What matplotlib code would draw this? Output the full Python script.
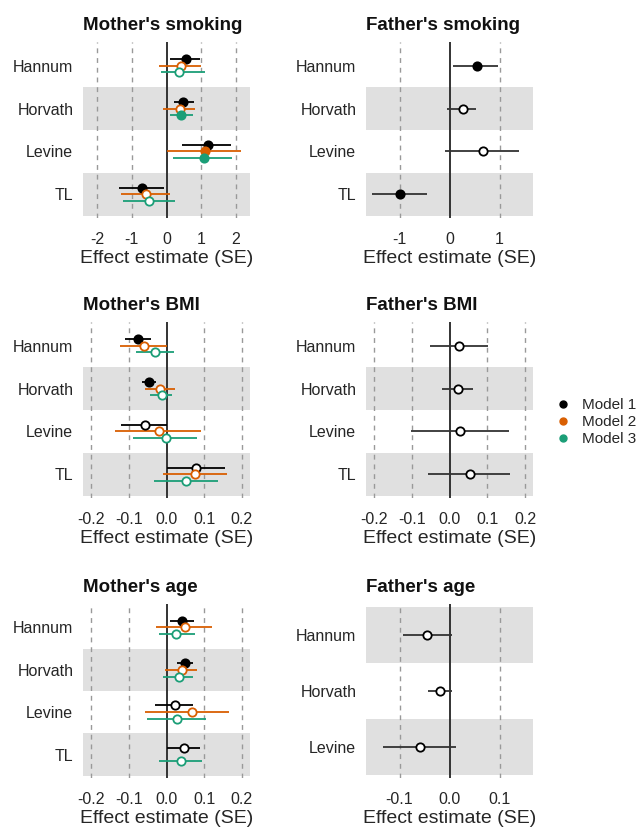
import numpy as np
import matplotlib
matplotlib.use("Agg")
import matplotlib.pyplot as plt
from matplotlib.lines import Line2D

plt.rcParams['font.family'] = ['Liberation Sans', 'DejaVu Sans']
plt.rcParams['axes.unicode_minus'] = False

clocks4 = ["Hannum", "Horvath", "Levine", "TL"]
clocks3 = ["Hannum", "Horvath", "Levine"]
model_names = ["Model 1", "Model 2", "Model 3"]
model_colors = ["#000000", "#D95F02", "#1B9E77"]

# Mother's smoking (rows: model 1..3, columns: clocks)
ms_est = [[0.575, 0.49, 1.19, -0.71], [0.42, 0.40, 1.11, -0.59], [0.36, 0.42, 1.07, -0.50]]
ms_lo = [[0.115, 0.21, 0.45, -1.37], [-0.21, -0.10, 0.02, -1.32], [-0.16, 0.09, 0.20, -1.26]]
ms_hi = [[0.98, 0.79, 1.87, -0.08], [1.00, 0.81, 2.15, 0.10], [1.12, 0.77, 1.88, 0.24]]
ms_sig = [[1, 1, 1, 1], [0, 0, 1, 0], [0, 1, 1, 0]]

# Father's smoking (model 1 only)
fs_est = [[0.54, 0.27, 0.67, -0.99]]
fs_lo = [[0.07, -0.05, -0.10, -1.55]]
fs_hi = [[0.96, 0.53, 1.39, -0.45]]
fs_sig = [[1, 0, 0, 1]]

# Mother's BMI
mb_est = [[-0.075, -0.046, -0.056, 0.078], [-0.059, -0.017, -0.020, 0.077], [-0.031, -0.012, -0.002, 0.052]]
mb_lo = [[-0.111, -0.065, -0.120, 0.000], [-0.124, -0.058, -0.137, -0.010], [-0.082, -0.044, -0.089, -0.032]]
mb_hi = [[-0.042, -0.027, 0.000, 0.155], [0.002, 0.022, 0.091, 0.161], [0.019, 0.015, 0.082, 0.136]]
mb_sig = [[1, 1, 0, 0], [0, 0, 0, 0], [0, 0, 0, 0]]

# Father's BMI
fb_est = [[0.026, 0.023, 0.029, 0.054]]
fb_lo = [[-0.051, -0.019, -0.101, -0.058]]
fb_hi = [[0.101, 0.063, 0.157, 0.159]]
fb_sig = [[0, 0, 0, 0]]

# Mother's age (model 2 has no TL estimate)
ma_est = [[0.041, 0.048, 0.022, 0.047], [0.048, 0.042, 0.068, np.nan], [0.026, 0.034, 0.029, 0.038]]
ma_lo = [[0.010, 0.027, -0.030, 0.000], [-0.028, -0.004, -0.057, np.nan], [-0.021, -0.010, -0.053, -0.019]]
ma_hi = [[0.073, 0.070, 0.071, 0.090], [0.121, 0.082, 0.165, np.nan], [0.075, 0.071, 0.106, 0.094]]
ma_sig = [[1, 1, 0, 0], [0, 0, 0, 0], [0, 0, 0, 0]]

# Father's age
fa_est = [[-0.045, -0.019, -0.059]]
fa_lo = [[-0.093, -0.043, -0.133]]
fa_hi = [[0.004, 0.004, 0.013]]
fa_sig = [[0, 0, 0]]

txt_col = "#262626"
band_col = "#E0E0E0"


def forest(ax, title, clocks, est, lo, hi, sig, xlim, ticks, ticklabels):
    n = len(clocks)
    ax.set_xlim(-xlim, xlim)
    ax.set_ylim(-0.55, n - 0.45)
    # gray bands on alternating rows (from bottom)
    for j in range(0, n, 2):
        ax.axhspan(j - 0.5, j + 0.5, color=band_col, lw=0, zorder=0)
    for t in ticks:
        if t != 0:
            ax.axvline(t, color="#999999", lw=1.0, ls=(0, (3.5, 3.5)), zorder=1)
    ax.axvline(0, color="#333333", lw=1.4, zorder=2)
    nm = len(est)
    offs = [0.0] if nm == 1 else [0.16, 0.0, -0.16]
    for m in range(nm):
        col = model_colors[m]
        for i in range(n):
            if np.isnan(est[m][i]):
                continue
            y = n - 1 - i + offs[m]
            ax.plot([lo[m][i], hi[m][i]], [y, y], color=col if nm > 1 else "#333333",
                    lw=1.3, zorder=3, solid_capstyle="butt")
            face = col if sig[m][i] else "white"
            ax.plot(est[m][i], y, marker="o", ms=6, mfc=face, mec=col, mew=1.3,
                    zorder=4, ls="none")
    ax.set_yticks(range(n))
    ax.set_yticklabels(clocks[::-1])
    ax.set_xticks(ticks)
    ax.set_xticklabels(ticklabels)
    ax.tick_params(axis="both", length=0, labelsize=11.5, labelcolor=txt_col)
    ax.tick_params(axis="y", pad=7)
    ax.tick_params(axis="x", pad=10)
    for s in ax.spines.values():
        s.set_visible(False)
    ax.set_xlabel("Effect estimate (SE)", fontsize=14, color=txt_col, labelpad=2)
    ax.set_title(title, loc="left", fontsize=13.5, fontweight="bold", color="#111111", pad=9)


fig = plt.figure(figsize=(6.38, 8.31), dpi=100)

W = 638.0
H = 831.0
lefts = [83 / W, 366 / W]
width = 167 / W
rows = [(42, 218), (322, 498), (604, 778)]
axs = []
for (top, bot) in rows:
    r = []
    for lft in lefts:
        r.append(fig.add_axes([lft, 1 - bot / H, width, (bot - top) / H]))
    axs.append(r)

bmi_ticks = [-0.2, -0.1, 0.0, 0.1, 0.2]
bmi_labels = ["-0.2", "-0.1", "0.0", "0.1", "0.2"]

forest(axs[0][0], "Mother's smoking", clocks4, ms_est, ms_lo, ms_hi, ms_sig, 2.41,
       [-2, -1, 0, 1, 2], ["-2", "-1", "0", "1", "2"])
forest(axs[0][1], "Father's smoking", clocks4, fs_est, fs_lo, fs_hi, fs_sig, 1.67,
       [-1, 0, 1], ["-1", "0", "1"])
forest(axs[1][0], "Mother's BMI", clocks4, mb_est, mb_lo, mb_hi, mb_sig, 0.222,
       bmi_ticks, bmi_labels)
forest(axs[1][1], "Father's BMI", clocks4, fb_est, fb_lo, fb_hi, fb_sig, 0.221,
       bmi_ticks, bmi_labels)
forest(axs[2][0], "Mother's age", clocks4, ma_est, ma_lo, ma_hi, ma_sig, 0.222,
       bmi_ticks, bmi_labels)
forest(axs[2][1], "Father's age", clocks3, fa_est, fa_lo, fa_hi, fa_sig, 0.167,
       [-0.1, 0.0, 0.1], ["-0.1", "0.0", "0.1"])

handles = [Line2D([], [], marker="o", ls="none", color=c, ms=5) for c in model_colors]
fig.legend(handles, model_names, loc="center left", bbox_to_anchor=(548 / W, 1 - 422 / H),
           frameon=False, fontsize=11, handletextpad=0.6, labelspacing=0.2,
           handlelength=1.2, labelcolor=txt_col, borderaxespad=0.0)

fig.savefig("out.png", dpi=100)
